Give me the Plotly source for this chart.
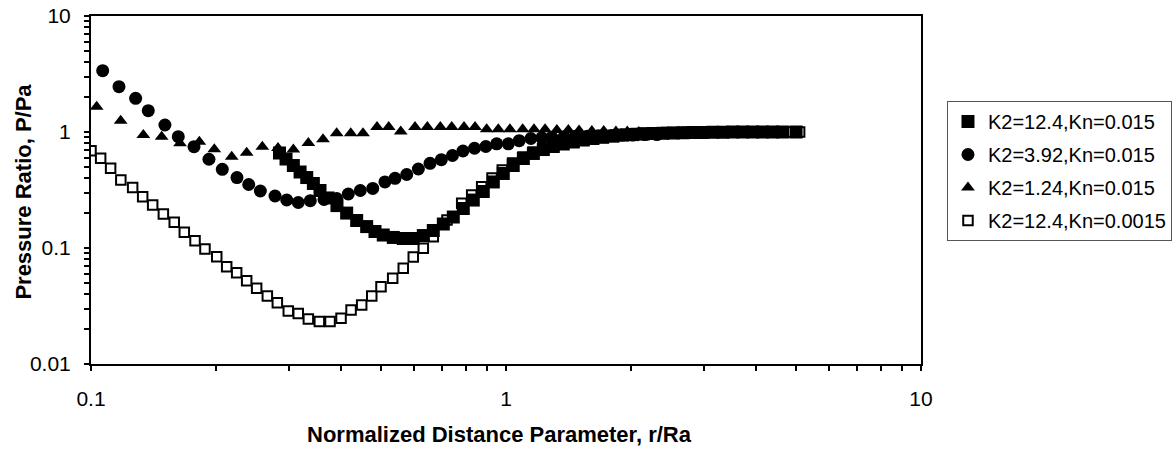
import plotly.graph_objects as go

# ---------------- data ----------------
# K2=12.4, Kn=0.015 (filled squares)
r_sq = [0.2846, 0.2951, 0.3073, 0.319, 0.331, 0.3434, 0.3563, 0.3724, 0.3915, 0.4131,
        0.4367, 0.4616, 0.4834, 0.5061, 0.5351, 0.5655, 0.5978, 0.632, 0.668, 0.7062,
        0.7464, 0.789, 0.834, 0.8815, 0.932, 0.985, 1.041, 1.101, 1.164, 1.23,
        1.30, 1.374, 1.453, 1.536, 1.62, 1.71, 1.81, 1.91, 2.02, 2.14,
        2.26, 2.39, 2.53, 2.67, 2.82, 2.98, 3.15, 3.33, 3.52, 3.72, 3.93, 4.15, 4.39, 4.64, 5.0]
p_sq = [0.659, 0.585, 0.514, 0.452, 0.405, 0.36, 0.313, 0.27, 0.232, 0.2,
        0.1726, 0.153, 0.1387, 0.1294, 0.1233, 0.1208, 0.1208, 0.128, 0.1416, 0.161,
        0.185, 0.219, 0.259, 0.307, 0.371, 0.439, 0.514, 0.591, 0.653, 0.706,
        0.75, 0.788, 0.82, 0.853, 0.879, 0.90, 0.92, 0.94, 0.95, 0.96,
        0.97, 0.975, 0.98, 0.985, 0.99, 0.99, 0.995, 0.995, 1.0, 1.0, 1.0, 1.0, 1.0, 1.0, 1.0]

# K2=3.92, Kn=0.015 (filled circles)
r_ci = [0.1067, 0.1168, 0.1281, 0.1374, 0.1507, 0.1623, 0.1771, 0.1924, 0.2072, 0.2248,
        0.2399, 0.2559, 0.2776, 0.2962, 0.3158, 0.3376, 0.3643, 0.3908, 0.4169, 0.4456,
        0.4774, 0.5108, 0.5403, 0.5764, 0.6149, 0.6561, 0.6985, 0.743, 0.7876, 0.8397,
        0.8941, 0.9497, 1.013, 1.076, 1.148, 1.22, 1.29, 1.38, 1.47, 1.57,
        1.67, 1.79, 1.90, 2.02, 2.16, 2.31]
p_ci = [3.376, 2.458, 1.952, 1.526, 1.149, 0.911, 0.747, 0.582, 0.477, 0.405,
        0.3527, 0.31, 0.2807, 0.2594, 0.2467, 0.256, 0.262, 0.267, 0.292, 0.313,
        0.326, 0.371, 0.399, 0.43, 0.48, 0.537, 0.577, 0.627, 0.686, 0.724,
        0.75, 0.791, 0.791, 0.841, 0.879, 0.89, 0.90, 0.91, 0.92, 0.92,
        0.93, 0.93, 0.94, 0.94, 0.95, 0.95]

# K2=1.24, Kn=0.015 (filled triangles)
r_tr = [0.1032, 0.1179, 0.1337, 0.148, 0.1639, 0.1824, 0.1982, 0.2183, 0.2372, 0.2587,
        0.2822, 0.3073, 0.334, 0.3623, 0.3908, 0.4226, 0.4523, 0.4889, 0.5217, 0.5576,
        0.6035, 0.6463, 0.6946, 0.7399, 0.7922, 0.8421, 0.8983, 0.9581, 1.022, 1.097,
        1.168, 1.242, 1.326, 1.413, 1.50, 1.61, 1.72, 1.84, 1.96, 2.09]
p_tr = [1.652, 1.251, 0.942, 0.911, 0.799, 0.825, 0.709, 0.612, 0.663, 0.747,
        0.728, 0.706, 0.804, 0.865, 0.974, 0.974, 0.974, 1.104, 1.104, 1.01,
        1.104, 1.104, 1.104, 1.104, 1.104, 1.104, 1.055, 1.055, 1.055, 1.055,
        1.055, 1.055, 1.04, 1.04, 1.03, 1.02, 1.02, 1.01, 1.01, 1.0]

# K2=12.4, Kn=0.0015 (open squares)
r_os = [0.100, 0.1055, 0.1115, 0.118, 0.126, 0.1332, 0.1408, 0.1494, 0.1587, 0.1678,
        0.1781, 0.1882, 0.2009, 0.2123, 0.2244, 0.2372, 0.2507, 0.266, 0.2812, 0.2988,
        0.3158, 0.334, 0.355, 0.3767, 0.4004, 0.4233, 0.449, 0.4748, 0.4998, 0.5333,
        0.5655, 0.5978, 0.632, 0.668, 0.7208, 0.7821, 0.8266, 0.8737, 0.9254, 0.9795,
        1.037, 1.099, 1.162, 1.231, 1.306, 1.38, 1.462, 1.549, 1.638, 1.73,
        1.835, 1.945, 2.057, 2.173, 2.31, 2.44, 2.58, 2.74, 2.90, 3.07,
        3.25, 3.44, 3.64, 3.85, 4.07, 4.31, 4.56, 4.82, 5.1]
p_os = [0.690, 0.593, 0.486, 0.386, 0.332, 0.277, 0.235, 0.196, 0.167, 0.1365,
        0.1156, 0.098, 0.0841, 0.069, 0.0612, 0.0522, 0.045, 0.0385, 0.0337, 0.0286,
        0.0273, 0.0244, 0.0232, 0.0232, 0.0248, 0.0292, 0.0323, 0.0385, 0.0464, 0.0548,
        0.0668, 0.0836, 0.0993, 0.125, 0.174, 0.243, 0.286, 0.337, 0.401, 0.47,
        0.541, 0.609, 0.673, 0.728, 0.773, 0.82, 0.853, 0.877, 0.90, 0.92,
        0.94, 0.955, 0.97, 0.98, 0.985, 0.99, 0.99, 0.995, 0.995, 1.0,
        1.0, 1.0, 1.0, 1.0, 1.0, 1.0, 1.0, 1.0, 1.0]

names = ["K2=12.4,Kn=0.015", "K2=3.92,Kn=0.015", "K2=1.24,Kn=0.015", "K2=12.4,Kn=0.0015"]

x_title = "Normalized Distance Parameter, r/Ra"
y_title = "Pressure Ratio, P/Pa"

x_tickvals = [0.1, 1, 10]
x_ticktext = ["0.1", "1", "10"]
y_tickvals = [0.01, 0.1, 1, 10]
y_ticktext = ["0.01", "0.1", "1", "10"]

FONT = "Liberation Sans, Arial, sans-serif"

fig = go.Figure()
# drawing order: open squares bottom, filled squares top
fig.add_trace(go.Scatter(x=r_os, y=p_os, mode="markers", name=names[3], legendrank=4,
                         legendgroup="d",
                         marker=dict(symbol="square", size=9.5, color="white",
                                     line=dict(color="black", width=2))))
fig.add_trace(go.Scatter(x=r_ci, y=p_ci, mode="markers", name=names[1], legendrank=2,
                         legendgroup="b",
                         marker=dict(symbol="circle", size=13, color="black",
                                     line=dict(width=0))))
fig.add_trace(go.Scatter(x=r_tr, y=p_tr, mode="markers", name=names[2], legendrank=3,
                         legendgroup="c",
                         marker=dict(symbol="triangle-up", size=12, color="black",
                                     line=dict(width=0))))
fig.add_trace(go.Scatter(x=r_sq, y=p_sq, mode="markers", name=names[0], legendrank=1,
                         legendgroup="a",
                         marker=dict(symbol="square", size=13, color="black",
                                     line=dict(width=0))))

axis_common = dict(
    type="log", showgrid=False, zeroline=False,
    showline=True, linewidth=2, linecolor="black", mirror=True,
    ticks="outside", ticklen=5, tickwidth=2, tickcolor="black",
    tickmode="array",
    tickfont=dict(family=FONT, size=21, color="black"),
    minor=dict(ticks="outside", ticklen=5, tickwidth=2, tickcolor="black",
               dtick="D1", showgrid=False),
)

title_font = dict(family=FONT, size=22, color="black", weight="bold")

fig.update_layout(
    width=1175, height=451,
    margin=dict(l=91, r=254, t=16, b=87, autoexpand=False),
    paper_bgcolor="white", plot_bgcolor="white",
    font=dict(family=FONT, color="black"),
    xaxis=dict(range=[-1, 1], tickvals=x_tickvals, ticktext=x_ticktext,
               ticklabelstandoff=10, **axis_common),
    yaxis=dict(range=[-2, 1], tickvals=y_tickvals, ticktext=y_ticktext,
               ticklabelstandoff=9, **axis_common),
    legend=dict(x=1.0313, y=0.7557, xanchor="left", yanchor="top",
                bgcolor="white", bordercolor="#555555", borderwidth=1,
                font=dict(family=FONT, size=20, color="black"),
                tracegroupgap=4, itemwidth=30),
    showlegend=True,
    annotations=[
        dict(text=x_title, xref="paper", yref="paper", x=0.4916, y=-0.204,
             xanchor="center", yanchor="middle", showarrow=False, font=title_font),
        dict(text=y_title, xref="paper", yref="paper", x=-0.0813, y=0.494,
             xanchor="center", yanchor="middle", textangle=-90, showarrow=False,
             font=title_font),
    ],
)

fig.write_html("out.html")
